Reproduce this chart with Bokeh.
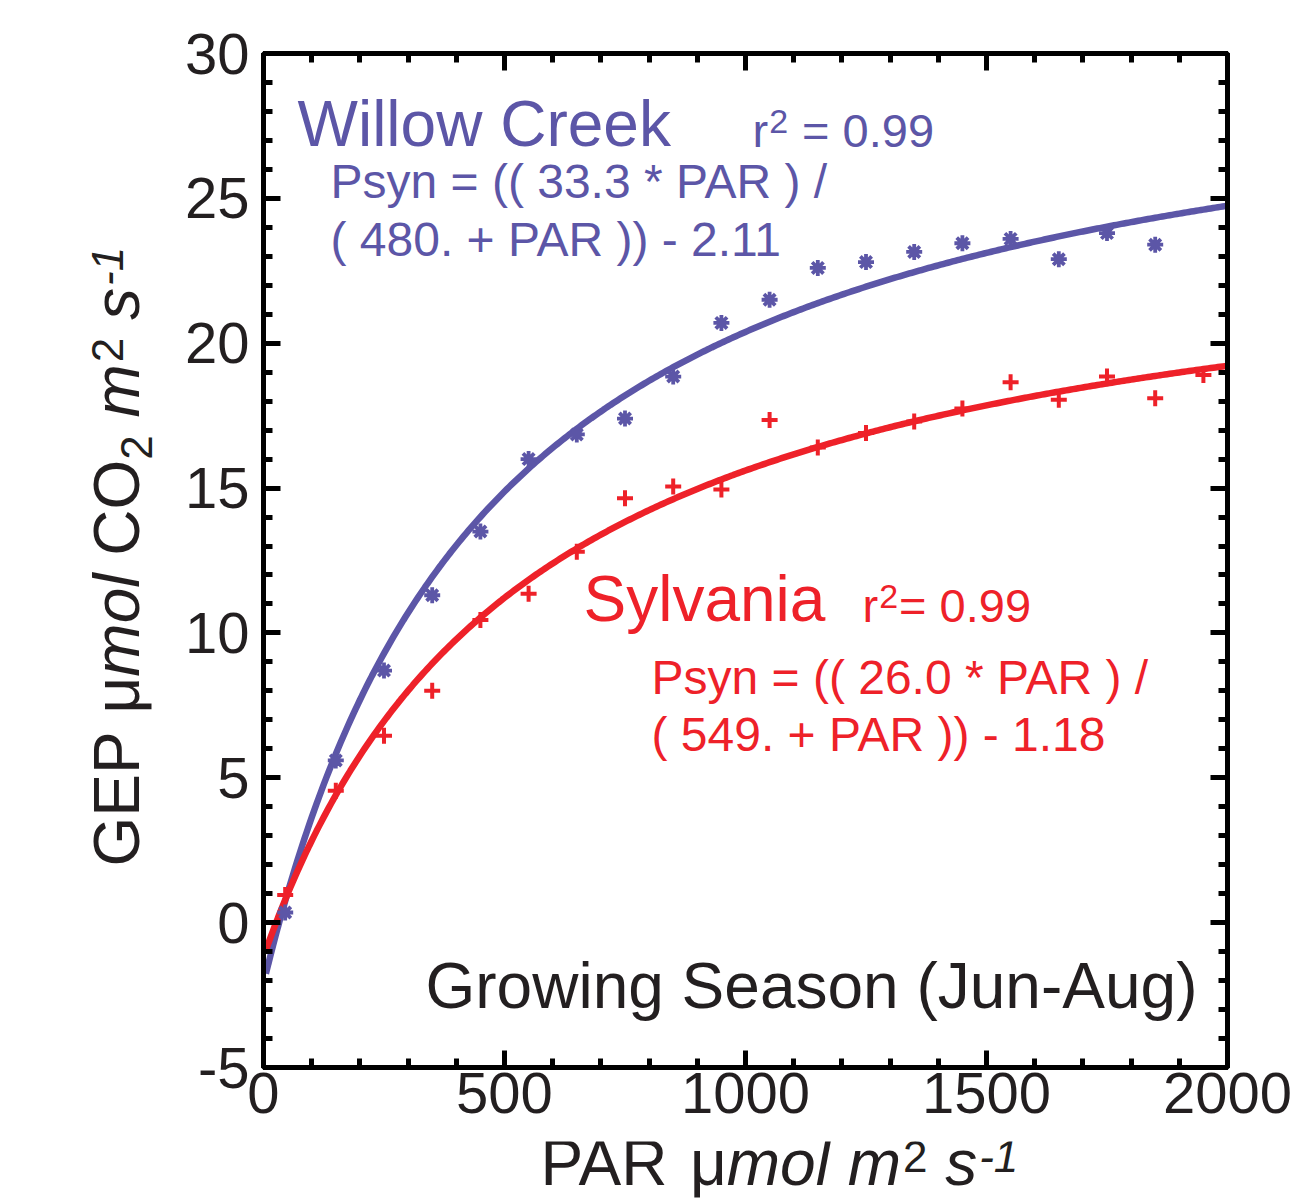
import math
import numpy as np
from bokeh.plotting import figure
from bokeh.layouts import row, column
from bokeh.models import (Range1d, LinearAxis, SingleIntervalTicker, Label,
                          CustomJSTickFormatter)
from bokeh.embed import file_html
from bokeh.resources import INLINE

# ---------------- data ----------------
par_wc = [45, 150, 250, 350, 450, 550, 650, 750, 850, 950, 1050, 1150, 1250,
          1350, 1450, 1550, 1650, 1750, 1850]
gep_wc = [0.35, 5.6, 8.7, 11.3, 13.5, 16.0, 16.85, 17.4, 18.85, 20.7, 21.5,
          22.6, 22.8, 23.15, 23.45, 23.6, 22.9, 23.8, 23.4]
par_sy = [45, 150, 250, 350, 450, 550, 650, 750, 850, 950, 1050, 1150, 1250,
          1350, 1450, 1550, 1650, 1750, 1850, 1950]
gep_sy = [0.95, 4.55, 6.45, 8.0, 10.45, 11.35, 12.8, 14.65, 15.05, 14.95,
          17.35, 16.4, 16.9, 17.3, 17.75, 18.65, 18.05, 18.85, 18.1, 18.9]
# fitted light-response parameters printed on the chart: Pmax, K, R
fit_wc = (33.3, 480.0, 2.11)
fit_sy = (26.0, 549.0, 1.18)
x_ticks_interval = 500
y_ticks_interval = 5

BLUE = "#5C56A7"
RED = "#EE2129"
INK = "#231F20"
FONT = "Liberation Sans"

X0, X1, Y0, Y1 = 0, 2000, -5, 30
# page geometry (px)
PW, PH = 1311, 1203
YT_W = 165            # width of the strip holding the y-axis title
XT_H = 62             # height of the strip holding the x-axis title
FL, FR, FT, FB = 263, 1227, 53, 1067   # frame edges on the page
MW, MH = PW - YT_W, PH - XT_H          # main figure size
BASE_SHIFT = 0.38     # rendered baseline sits this many em below the anchor

p = figure(width=MW, height=MH, output_backend="svg", toolbar_location=None,
           x_range=Range1d(X0, X1), y_range=Range1d(Y0, Y1),
           x_axis_location=None, y_axis_location=None,
           min_border_left=FL - YT_W, min_border_right=PW - FR,
           min_border_top=FT, min_border_bottom=MH - FB)
p.grid.visible = False
p.outline_line_color = "black"
p.outline_line_width = 5
p.background_fill_color = "white"
p.border_fill_color = "white"


def make_axis(interval, labels):
    ax = LinearAxis(ticker=SingleIntervalTicker(interval=interval, num_minor_ticks=5))
    ax.axis_line_width = 5
    ax.axis_line_color = "black"
    ax.major_tick_in = 17
    ax.major_tick_out = 0
    ax.minor_tick_in = 9
    ax.minor_tick_out = 0
    ax.major_tick_line_width = 5
    ax.minor_tick_line_width = 5
    ax.major_tick_line_color = "black"
    ax.minor_tick_line_color = "black"
    if labels:
        ax.formatter = CustomJSTickFormatter(code="return tick.toFixed(0)")
        ax.major_label_text_font = FONT
        ax.major_label_text_font_size = "58px"
        ax.major_label_text_color = INK
    else:
        ax.formatter = CustomJSTickFormatter(code="return ''")
        ax.major_label_text_font_size = "0px"
    return ax


bottom = make_axis(x_ticks_interval, True)
bottom.major_label_standoff = 5
left = make_axis(y_ticks_interval, True)
left.major_label_standoff = 14
top = make_axis(x_ticks_interval, False)
right = make_axis(y_ticks_interval, False)
p.add_layout(bottom, "below")
p.add_layout(left, "left")
p.add_layout(top, "above")
p.add_layout(right, "right")

# fitted curves
xc = np.linspace(5, 2000, 400)
for (pm, k, r), col in ((fit_wc, BLUE), (fit_sy, RED)):
    p.line(xc, pm * xc / (k + xc) - r, line_color=col, line_width=6.5)

p.scatter(par_wc, gep_wc, marker="asterisk", size=16, line_width=3.8,
          line_color=BLUE)
p.scatter(par_sy, gep_sy, marker="cross", size=16, line_width=4,
          line_color=RED)

AW = {' ': 278, '(': 333, ')': 333, '*': 389, '+': 584, '-': 333, '.': 278,
      '/': 278, '=': 584, 'A': 667, 'C': 722, 'E': 667, 'G': 778, 'J': 500,
      'P': 667, 'R': 722, 'S': 667, 'W': 944, 'O': 778, 'a': 556, 'c': 500,
      'e': 556, 'g': 556, 'i': 222, 'k': 500, 'l': 222, 'm': 833, 'n': 556,
      'o': 556, 'r': 333, 's': 500, 'u': 556, 'w': 722, 'y': 500, 'μ': 576}


def tw(s, f):
    return sum(AW.get(c, 556) for c in s) * f / 1000.0


def main_xy(px, py):
    """page px -> data coords of the main plot"""
    return (X0 + (px - FL) / (FR - FL) * (X1 - X0),
            Y1 - (py - FT) / (FB - FT) * (Y1 - Y0))


def put(fig, conv, px, py, text, size, color, style="normal", vertical=False):
    if vertical:
        px -= BASE_SHIFT * size
    else:
        py -= BASE_SHIFT * size
    x, y = conv(px, py)
    fig.add_layout(Label(x=x, y=y, text=text, text_font=FONT,
                         text_font_size=f"{size}px", text_color=color,
                         text_font_style=style, text_align="left",
                         text_baseline="alphabetic",
                         angle=math.pi / 2 if vertical else 0.0))


def run(fig, conv, px, py, pieces, color, vertical=False):
    """pieces: (text, size, style, raise_px, gap_px_before)"""
    pos = 0.0
    for text, size, style, rise, gap in pieces:
        pos += gap
        if vertical:
            put(fig, conv, px - rise, py - pos, text, size, color, style, True)
        else:
            put(fig, conv, px + pos, py - rise, text, size, color, style)
        pos += tw(text, size)


# Willow Creek annotation
put(p, main_xy, 297, 148, "Willow Creek", 64, BLUE)
run(p, main_xy, 752, 148, [("r", 47, "normal", 0, 0), ("2", 34, "normal", 14, 1),
                           ("= 0.99", 47, "normal", 0, 14)], BLUE)
put(p, main_xy, 330, 199, "Psyn = (( 33.3 * PAR ) /", 48, BLUE)
put(p, main_xy, 330, 257, "( 480. + PAR )) - 2.11", 48, BLUE)

# Sylvania annotation
put(p, main_xy, 583, 623, "Sylvania", 64, RED)
run(p, main_xy, 862, 623, [("r", 47, "normal", 0, 0), ("2", 34, "normal", 14, 1),
                           ("= 0.99", 47, "normal", 0, 1)], RED)
put(p, main_xy, 651, 695, "Psyn = (( 26.0 * PAR ) /", 48, RED)
put(p, main_xy, 651, 752, "( 549. + PAR )) - 1.18", 48, RED)

put(p, main_xy, 425, 1010, "Growing Season (Jun-Aug)", 64, INK)


# -------- axis-title strips (data coords = page px) --------
def strip(w, h, xr, yr, bl=0, br=0, bt=0, bb=0):
    f = figure(width=w, height=h, output_backend="svg", toolbar_location=None,
               x_range=Range1d(*xr), y_range=Range1d(*yr),
               x_axis_location=None, y_axis_location=None,
               min_border_left=bl, min_border_right=br,
               min_border_top=bt, min_border_bottom=bb)
    f.grid.visible = False
    f.outline_line_color = None
    f.background_fill_color = "white"
    f.border_fill_color = "white"
    return f


def page_xy(px, py):
    return px, py


# y-title strip: same top/bottom borders as the main figure
yt = strip(YT_W, MH, (0, YT_W), (FB, FT), bt=FT, bb=MH - FB)
# x-title strip: full page width, same left/right borders as the main frame
xt = strip(PW, XT_H, (FL, FR), (PH, MH), bl=FL, br=PW - FR)

SP = tw(" ", 64)
run(xt, page_xy, 540, 1187, [("PAR", 64, "normal", 0, 0), ("μ", 64, "normal", 0, SP),
                             ("mol", 64, "italic", 0, 0), ("m", 64, "italic", 0, SP),
                             ("2", 44, "normal", 14, 2), ("s", 64, "italic", 0, SP),
                             ("-1", 44, "italic", 14, 2)], INK)
run(yt, page_xy, 141, 866, [("GEP", 64, "normal", 0, 0), ("μ", 64, "normal", 0, SP),
                            ("mol", 64, "italic", 0, 0), ("CO", 64, "normal", 0, SP),
                            ("2", 44, "normal", -12, 0), ("m", 64, "italic", 0, SP),
                            ("2", 44, "normal", 17, 2), ("s", 64, "italic", 0, SP),
                            ("-1", 44, "italic", 17, 2)], INK, vertical=True)

layout = column(row(yt, p), xt)
open("out.html", "w").write(file_html(layout, INLINE))
